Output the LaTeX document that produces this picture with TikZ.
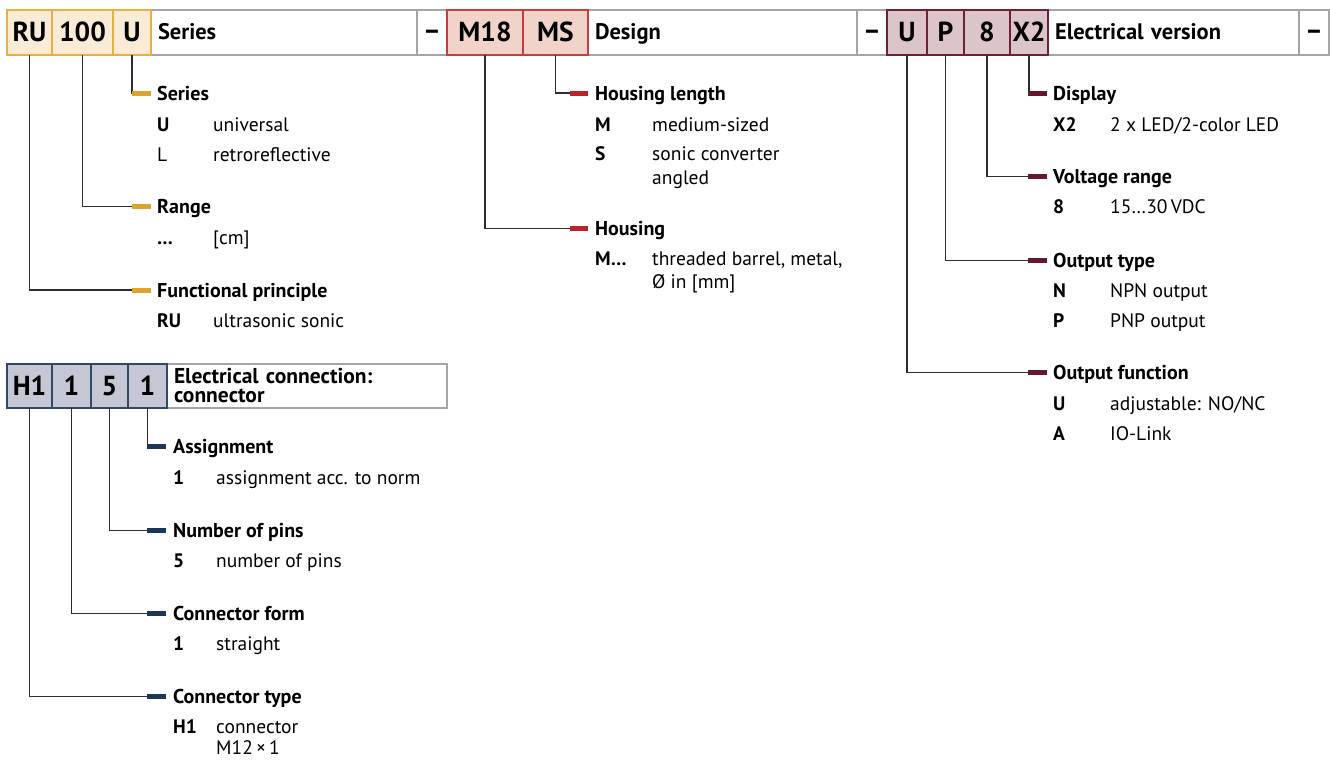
\documentclass[tikz,border=0pt]{standalone}
\usepackage{fontspec}
\setmainfont{PT Sans}
\usetikzlibrary{positioning}
\definecolor{serFill}{RGB}{250,235,214}
\definecolor{serLine}{RGB}{232,176,62}
\definecolor{serMark}{RGB}{222,164,40}
\definecolor{desFill}{RGB}{241,211,201}
\definecolor{desLine}{RGB}{200,62,62}
\definecolor{desMark}{RGB}{190,34,40}
\definecolor{eleFill}{RGB}{219,197,200}
\definecolor{eleLine}{RGB}{112,32,52}
\definecolor{eleMark}{RGB}{104,24,44}
\definecolor{conFill}{RGB}{197,200,212}
\definecolor{conLine}{RGB}{46,74,104}
\definecolor{conMark}{RGB}{28,54,86}
\definecolor{frameGray}{RGB}{165,165,165}
\definecolor{linkGray}{RGB}{45,45,45}
\newcommand{\twolines}[2]{\vtop{\hbox{#1}\hbox{#2}}}

\begin{document}
\begin{tikzpicture}[x=1pt,y=-1pt,
  codebox/.style={anchor=north west, minimum height=45pt, inner sep=0pt, outer sep=0pt,
    line width=1.1pt, font=\fontsize{27.5}{27.5}\selectfont\bfseries, text height=19pt, text depth=0pt},
  sercode/.style={codebox, draw=serLine, fill=serFill},
  descode/.style={codebox, draw=desLine, fill=desFill},
  elecode/.style={codebox, draw=eleLine, fill=eleFill},
  concode/.style={codebox, draw=conLine, fill=conFill, minimum height=44pt},
  framebox/.style={anchor=north west, minimum height=45pt, inner xsep=7pt, inner ysep=0pt,
    outer sep=0pt, draw=frameGray, fill=white, line width=1.1pt, align=left},
  titlebox/.style={framebox, font=\fontsize{22.5}{22.5}\selectfont\bfseries,
    text height=14pt, text depth=0pt},
  dashbox/.style={titlebox, inner xsep=0pt, minimum width=30pt, align=center,
    font=\fontsize{27}{27}\selectfont\bfseries},
  head/.style={anchor=west, inner sep=0pt, text height=14pt, text depth=0pt,
    font=\fontsize{20}{24}\selectfont\bfseries},
  key/.style={anchor=base west, inner sep=0pt, font=\fontsize{19.5}{23.5}\selectfont\bfseries},
  val/.style={anchor=base west, inner sep=0pt, font=\fontsize{19.5}{23.5}\selectfont},
  link/.style={draw=linkGray, line width=1.1pt},
  sermk/.style={draw=serMark, line width=5pt},
  desmk/.style={draw=desMark, line width=5pt},
  elemk/.style={draw=eleMark, line width=5pt},
  conmk/.style={draw=conMark, line width=5pt}]
  \useasboundingbox (0,0) rectangle (1330,760);

  % Type code bar
  \node[titlebox, text width=252pt] (tser) at (151,10) {Series};
  \node[dashbox] (d1) at (417,10) {--};
  \node[titlebox, text width=255pt] (tdes) at (588,10) {Design};
  \node[dashbox] (d2) at (857,10) {--};
  \node[titlebox, text width=237pt] (tele) at (1048,10) {Electrical version};
  \node[dashbox] (d3) at (1299,10) {--};
  \node[sercode, minimum width=45pt] (cru) at (7,10) {RU};
  \node[sercode, minimum width=61pt] (c100) at (52,10) {100};
  \node[sercode, minimum width=38pt] (cu) at (113,10) {U};
  \node[descode, minimum width=76pt] (cm18) at (447,10) {M18};
  \node[descode, minimum width=65pt] (cms) at (523,10) {MS};
  \node[elecode, minimum width=40pt] (eu) at (887,10) {U};
  \node[elecode, minimum width=37pt] (ep) at (927,10) {P};
  \node[elecode, minimum width=46pt] (e8) at (964,10) {8};
  \node[elecode, minimum width=38pt] (ex2) at (1010,10) {X2};

  % Series
  \node[head] (hser) at (157,93.5) {Series};
  \draw[link] (cu.south) |- ([xshift=-25pt]hser.west);
  \draw[sermk] ([xshift=-25pt]hser.west) -- ([xshift=-6pt]hser.west);
  \node[key] (ksu) at (157,131.5) {U};
  \node[val] (vsu) at (213,131.5) {universal};
  \node[val] (ksl) at (157,161.5) {L};
  \node[val] (vsl) at (213,161.5) {retroreflective};

  % Range
  \node[head] (hrng) at (157,206.7) {Range};
  \draw[link] (c100.south) |- ([xshift=-25pt]hrng.west);
  \draw[sermk] ([xshift=-25pt]hrng.west) -- ([xshift=-6pt]hrng.west);
  \node[key] (kr) at (157,244) {…};
  \node[val] (vr) at (213,244) {[cm]};

  % Functional principle
  \node[head] (hfun) at (157,290) {Functional principle};
  \draw[link] (cru.south) |- ([xshift=-25pt]hfun.west);
  \draw[sermk] ([xshift=-25pt]hfun.west) -- ([xshift=-6pt]hfun.west);
  \node[key] (kfru) at (157,327.5) {RU};
  \node[val] (vfru) at (213,327.5) {ultrasonic sonic};

  % Housing length
  \node[head] (hlen) at (595,93) {Housing length};
  \draw[link] (cms.south) |- ([xshift=-25pt]hlen.west);
  \draw[desmk] ([xshift=-25pt]hlen.west) -- ([xshift=-7pt]hlen.west);
  \node[key] (klm) at (595,131.5) {M};
  \node[val] (vlm) at (652,131.5) {medium-sized};
  \node[key] (kls) at (595,160.5) {S};
  \node[val] (vls) at (652,160.5) {\twolines{sonic converter}{angled}};

  % Housing
  \node[head] (hhou) at (595,228.5) {Housing};
  \draw[link] (cm18.south) |- ([xshift=-25pt]hhou.west);
  \draw[desmk] ([xshift=-25pt]hhou.west) -- ([xshift=-7pt]hhou.west);
  \node[key] (khm) at (595,265) {M…};
  \node[val] (vhm) at (652,265) {\twolines{threaded barrel, metal,}{Ø in [mm]}};

  % Display
  \node[head] (hdis) at (1053,93.5) {Display};
  \draw[link] (ex2.south) |- ([xshift=-25pt]hdis.west);
  \draw[elemk] ([xshift=-25pt]hdis.west) -- ([xshift=-6pt]hdis.west);
  \node[key] (kdx) at (1053,131) {X2};
  \node[val] (vdx) at (1110,131) {2 x LED/2-color LED};

  % Voltage range
  \node[head] (hvol) at (1053,176.7) {Voltage range};
  \draw[link] (e8.south) |- ([xshift=-25pt]hvol.west);
  \draw[elemk] ([xshift=-25pt]hvol.west) -- ([xshift=-6pt]hvol.west);
  \node[key] (kv8) at (1053,213) {8};
  \node[val] (vv8) at (1110,213) {15…30\,VDC};

  % Output type
  \node[head] (htyp) at (1053,260.5) {Output type};
  \draw[link] (ep.south) |- ([xshift=-25pt]htyp.west);
  \draw[elemk] ([xshift=-25pt]htyp.west) -- ([xshift=-6pt]htyp.west);
  \node[key] (ktn) at (1053,297) {N};
  \node[val] (vtn) at (1110,297) {NPN output};
  \node[key] (ktp) at (1053,327) {P};
  \node[val] (vtp) at (1110,327) {PNP output};

  % Output function
  \node[head] (hfct) at (1053,372.7) {Output function};
  \draw[link] (eu.south) |- ([xshift=-25pt]hfct.west);
  \draw[elemk] ([xshift=-25pt]hfct.west) -- ([xshift=-6pt]hfct.west);
  \node[key] (kfu) at (1053,410) {U};
  \node[val] (vfu) at (1110,410) {adjustable: NO/NC};
  \node[key] (kfa) at (1053,440) {A};
  \node[val] (vfa) at (1110,440) {IO-Link};

  % Connection code bar
  \node[framebox, text width=266pt, minimum height=44pt,
    font=\fontsize{21.5}{19}\selectfont\bfseries] (tcon) at (167,364)
    {Electrical connection:\\connector};
  \node[concode, minimum width=45pt] (ch1) at (7,364) {H1};
  \node[concode, minimum width=39pt] (cf1) at (52,364) {1};
  \node[concode, minimum width=37pt] (cp5) at (91,364) {5};
  \node[concode, minimum width=39pt] (ca1) at (128,364) {1};

  % Assignment
  \node[head] (hass) at (173,446.7) {Assignment};
  \draw[link] (ca1.south) |- ([xshift=-26pt]hass.west);
  \draw[conmk] ([xshift=-26pt]hass.west) -- ([xshift=-7pt]hass.west);
  \node[key] (ka1) at (173,484) {1};
  \node[val] (va1) at (216,484) {assignment acc. to norm};

  % Number of pins
  \node[head] (hpin) at (173,530.5) {Number of pins};
  \draw[link] (cp5.south) |- ([xshift=-26pt]hpin.west);
  \draw[conmk] ([xshift=-26pt]hpin.west) -- ([xshift=-7pt]hpin.west);
  \node[key] (kp5) at (173,567) {5};
  \node[val] (vp5) at (216,567) {number of pins};

  % Connector form
  \node[head] (hfrm) at (173,613.5) {Connector form};
  \draw[link] (cf1.south) |- ([xshift=-26pt]hfrm.west);
  \draw[conmk] ([xshift=-26pt]hfrm.west) -- ([xshift=-7pt]hfrm.west);
  \node[key] (kf1) at (173,650) {1};
  \node[val] (vf1) at (216,650) {straight};

  % Connector type
  \node[head] (hctp) at (173,696.5) {Connector type};
  \draw[link] (ch1.south) |- ([xshift=-26pt]hctp.west);
  \draw[conmk] ([xshift=-26pt]hctp.west) -- ([xshift=-7pt]hctp.west);
  \node[key] (kch1) at (173,733) {H1};
  \node[val, font=\fontsize{19.5}{21.5}\selectfont] (vch1) at (216,733)
    {\twolines{connector}{M12\,×\,1}};
\end{tikzpicture}
\end{document}
